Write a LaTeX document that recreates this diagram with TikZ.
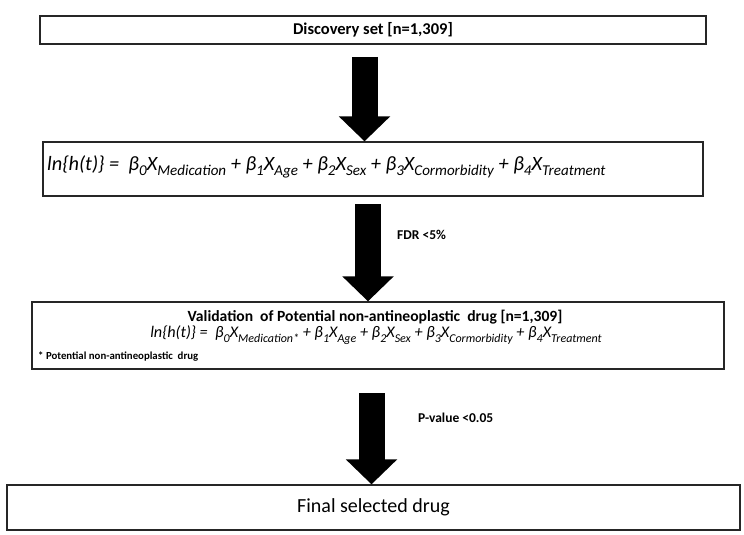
\documentclass[tikz,border=0pt]{standalone}
\usepackage{fontspec}
\usepackage{graphicx}
\setmainfont{Carlito}
\usetikzlibrary{positioning,calc,arrows.meta}
\newcommand{\sbs}[1]{\raisebox{-0.28em}{\scalebox{0.74}{#1}}}

\begin{document}
\begin{tikzpicture}[x=1pt,y=-1pt,
    box/.style={draw=black!85,line width=1.3pt,inner sep=0pt},
    bigarrow/.style={line width=26pt,-{Triangle[width=50pt,length=25pt]}},
    lbl/.style={font=\bfseries\fontsize{13.5}{16}\selectfont,inner sep=0pt,anchor=west}]
    \useasboundingbox (0,0) rectangle (744,535);

    % boxes
    \node[box,minimum width=666pt,minimum height=28pt,font=\bfseries\fontsize{16.5}{20}\selectfont] (discovery) at (373,30) {Discovery set [n=1,309]};
    \node[box,minimum width=660pt,minimum height=54pt] (model) at (373,169) {};
    \node[box,minimum width=692pt,minimum height=67pt] (validation) at (378,335.5) {};
    \node[box,minimum width=733pt,minimum height=45pt,font=\fontsize{20}{24}\selectfont] (final) at (373.5,507.5) {Final selected drug};

    % texts in the boxes
    \node[inner sep=0pt,anchor=west,font=\itshape\fontsize{20.3}{24}\selectfont] (modeleq) at (47,167)
        {ln\{h(t)\} =\ \ β\sbs{0}X\sbs{Medication} + β\sbs{1}X\sbs{Age} + β\sbs{2}X\sbs{Sex} + β\sbs{3}X\sbs{Cormorbidity} + β\sbs{4}X\sbs{Treatment}};
    \node[inner sep=0pt,font=\bfseries\fontsize{15.6}{19}\selectfont] (valtitle) at (375,317)
        {Validation\ \ of Potential non-antineoplastic\ \ drug [n=1,309]};
    \node[inner sep=0pt,font=\itshape\fontsize{16.2}{19}\selectfont] (valeq) at (376,335)
        {ln\{h(t)\} =\ \ β\sbs{0}X\sbs{Medication*} + β\sbs{1}X\sbs{Age} + β\sbs{2}X\sbs{Sex} + β\sbs{3}X\sbs{Cormorbidity} + β\sbs{4}X\sbs{Treatment}};
    \node[inner sep=0pt,anchor=west,font=\bfseries\fontsize{10.8}{12}\selectfont] (valnote) at (38,357)
        {* Potential non-antineoplastic\ \ drug};

    % arrows
    \coordinate (a1) at (364.5,57);
    \coordinate (a2) at (368,204);
    \coordinate (a3) at (371.5,393);
    \draw[bigarrow] (a1) -- (a1 |- model.north);
    \draw[bigarrow] (a2) -- (a2 |- validation.north);
    \draw[bigarrow] (a3) -- (a3 |- final.north);
    \node[lbl] (fdr) at (397,235) {FDR <5\%};
    \node[lbl] (pval) at (418,418) {P-value <0.05};
\end{tikzpicture}
\end{document}
